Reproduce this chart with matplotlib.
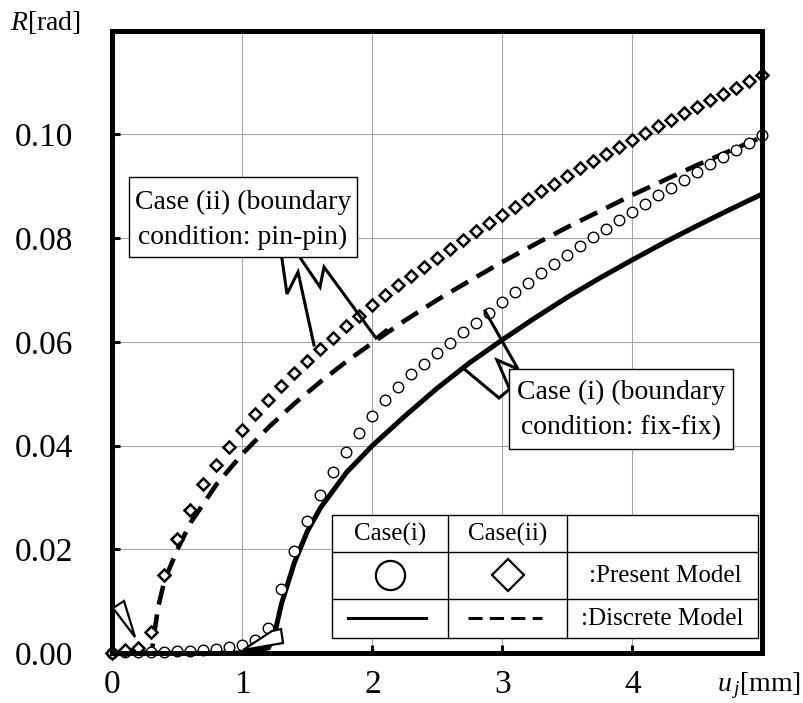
import matplotlib
matplotlib.use('Agg')
import matplotlib.pyplot as plt
from matplotlib.patches import Polygon, Rectangle
from matplotlib.lines import Line2D

plt.rcParams['font.family'] = ['Liberation Serif', 'DejaVu Serif']
plt.rcParams['mathtext.fontset'] = 'custom'
plt.rcParams['mathtext.rm'] = 'Liberation Serif'
plt.rcParams['mathtext.it'] = 'Liberation Serif:italic'

# ---------------- data ----------------
u_present = [0.0, 0.1, 0.2, 0.3, 0.4, 0.5, 0.6, 0.7, 0.8, 0.9,
             1.0, 1.1, 1.2, 1.3, 1.4, 1.5, 1.6, 1.7, 1.8, 1.9,
             2.0, 2.1, 2.2, 2.3, 2.4, 2.5, 2.6, 2.7, 2.8, 2.9,
             3.0, 3.1, 3.2, 3.3, 3.4, 3.5, 3.6, 3.7, 3.8, 3.9,
             4.0, 4.1, 4.2, 4.3, 4.4, 4.5, 4.6, 4.7, 4.8, 4.9, 5.0]

case1_present = [0.0, 0.0001, 0.0001, 0.0002, 0.0002, 0.0003, 0.0004, 0.0006, 0.0008, 0.0011,
                 0.0016, 0.0025, 0.0048, 0.0123, 0.0196, 0.0255, 0.0305, 0.0348, 0.0388, 0.0424,
                 0.0457, 0.0487, 0.0513, 0.0537, 0.0558, 0.0578, 0.0598, 0.0618, 0.0637, 0.0656,
                 0.0677, 0.0696, 0.0714, 0.0732, 0.0750, 0.0767, 0.0784, 0.0801, 0.0818, 0.0834,
                 0.0850, 0.0866, 0.0882, 0.0897, 0.0912, 0.0927, 0.0942, 0.0956, 0.0970, 0.0984, 0.0998]

case2_present = [0.0, 0.0005, 0.001, 0.004, 0.015, 0.022, 0.0275, 0.0325, 0.0363, 0.0398,
                 0.0430, 0.0460, 0.0488, 0.0514, 0.0539, 0.0563, 0.0586, 0.0608, 0.0630, 0.0650,
                 0.0670, 0.0690, 0.0709, 0.0727, 0.0745, 0.0762, 0.0779, 0.0796, 0.0813, 0.0829,
                 0.0845, 0.0860, 0.0875, 0.0890, 0.0905, 0.0919, 0.0934, 0.0948, 0.0962, 0.0975,
                 0.0989, 0.1002, 0.1015, 0.1028, 0.1041, 0.1053, 0.1066, 0.1078, 0.1090, 0.1103, 0.1115]

u_disc1 = [0.0, 1.0, 1.2, 1.25, 1.3, 1.4, 1.5, 1.6, 1.8, 2.0, 2.25, 2.5, 2.75,
           3.0, 3.25, 3.5, 3.75, 4.0, 4.25, 4.5, 4.75, 5.0]
case1_discrete = [0.0, 0.0, 0.001, 0.004, 0.0095, 0.0175, 0.0235, 0.0280, 0.0348, 0.0400,
                  0.0457, 0.0511, 0.0560, 0.0604, 0.0646, 0.0686, 0.0723, 0.0758, 0.0792,
                  0.0824, 0.0855, 0.0885]

u_disc2 = [0.0, 0.3, 0.35, 0.4, 0.5, 0.6, 0.8, 1.0, 1.2, 1.4, 1.6, 1.8, 2.0, 2.25, 2.5, 2.75,
           3.0, 3.25, 3.5, 3.75, 4.0, 4.25, 4.5, 4.75, 5.0]
case2_discrete = [0.0, 0.0, 0.0087, 0.0140, 0.0200, 0.0251, 0.0325, 0.0384, 0.0435, 0.0481,
                  0.0523, 0.0562, 0.0598, 0.0641, 0.0681, 0.0718, 0.0754, 0.0788, 0.0821,
                  0.0852, 0.0883, 0.0912, 0.0941, 0.0968, 0.0995]

x_ticks = [0, 1, 2, 3, 4]
x_tick_labels = ['0', '1', '2', '3', '4']
y_ticks = [0.00, 0.02, 0.04, 0.06, 0.08, 0.10]
y_tick_labels = ['0.00', '0.02', '0.04', '0.06', '0.08', '0.10']

# ---------------- figure ----------------
W, H = 804, 703
fig = plt.figure(figsize=(W / 100, H / 100), dpi=100)
ax = fig.add_axes([112.5 / W, 1 - 653 / H, 650 / W, 622.5 / H])
ax.set_xlim(0, 5)
ax.set_ylim(0, 0.12)

ax.grid(True, color='#a6a6a6', lw=0.8)
ax.set_axisbelow(True)
for s in ax.spines.values():
    s.set_linewidth(3.6)
    s.set_capstyle('projecting')
    s.set_zorder(7)

ax.set_xticks(x_ticks)
ax.set_xticklabels(x_tick_labels)
ax.set_yticks(y_ticks)
ax.set_yticklabels(y_tick_labels)
ax.tick_params(axis='both', direction='in', length=6, width=2.2, labelsize=24)
ax.tick_params(axis='x', pad=12)
ax.tick_params(axis='y', pad=28)

# series
ax.plot(u_disc1, case1_discrete, color='black', lw=3.6, zorder=4, solid_capstyle='butt')
ax.plot(u_disc2, case2_discrete, color='black', lw=3.3, zorder=4,
        linestyle=(0, (4.2, 2.2)), dash_capstyle='butt')
ax.plot(u_present, case1_present, linestyle='none', marker='o', ms=7.6,
        mfc='white', mec='black', mew=1.0, zorder=5, clip_on=False)
ax.plot(u_present, case2_present, linestyle='none', marker='D', ms=6.0,
        mfc='white', mec='black', mew=1.8, zorder=5, clip_on=False)

# axis labels
fig.text(10 / W, 1 - 22 / H, r'$R$[rad]', fontsize=20, ha='left', va='center')
fig.text(717 / W, 1 - 686 / H, r'$u_{\,j}$[mm]', fontsize=20, ha='left', va='center')


# ---------------- helpers in figure pixels ----------------
def fx(p):
    return p / W


def fy(p):
    return 1 - p / H


def poly_line(pts, lw=2.2, z=8):
    fig.add_artist(Line2D([fx(p[0]) for p in pts], [fy(p[1]) for p in pts],
                          color='black', lw=lw, zorder=z, transform=fig.transFigure,
                          solid_joinstyle='miter'))


def poly_patch(pts, z=8):
    fig.add_artist(Polygon([(fx(p[0]), fy(p[1])) for p in pts], closed=True,
                           facecolor='white', edgecolor='black', lw=1.6, zorder=z,
                           transform=fig.transFigure))


def box(x0, y0, x1, y1, z=9, lw=1.0):
    fig.add_artist(Rectangle((fx(x0), fy(y1)), fx(x1) - fx(x0), fy(y0) - fy(y1),
                             facecolor='white', edgecolor='black', lw=lw, zorder=z,
                             transform=fig.transFigure))


# white wedge shapes
poly_patch([(113, 608), (124, 601), (135, 637)])
poly_patch([(243, 650), (272, 631), (281, 629), (283, 643)])

# callout (ii)
box(129, 177, 357, 257)
fig.text(fx(243), fy(202), 'Case (ii) (boundary', fontsize=20, ha='center', va='center', zorder=10)
fig.text(fx(243), fy(237), 'condition: pin-pin)', fontsize=20, ha='center', va='center', zorder=10)
poly_line([(282, 259), (287, 294), (298, 272), (314, 345)])
poly_line([(301, 259), (320, 287), (324, 267), (376, 338), (386, 330)])

# callout (i)
box(509, 369, 733, 449)
fig.text(fx(621), fy(392), 'Case (i) (boundary', fontsize=20, ha='center', va='center', zorder=10)
fig.text(fx(621), fy(428), 'condition: fix-fix)', fontsize=20, ha='center', va='center', zorder=10)
poly_line([(485, 311), (518, 369), (497, 360), (510, 390)])
poly_line([(463, 368), (499, 398), (511, 388)])

# ---------------- legend table ----------------
box(332, 515, 758, 638, z=11, lw=1.0)
for xv in (448, 567):
    poly_line([(xv, 515), (xv, 638)], lw=1.0, z=12)
for yv in (552, 599):
    poly_line([(332, yv), (758, yv)], lw=1.0, z=12)
fig.text(fx(390), fy(534), 'Case(i)', fontsize=18, ha='center', va='center', zorder=12)
fig.text(fx(508), fy(534), 'Case(ii)', fontsize=18, ha='center', va='center', zorder=12)
fig.text(fx(665), fy(576), ':Present Model', fontsize=18, ha='center', va='center', zorder=12)
fig.text(fx(662), fy(619), ':Discrete Model', fontsize=18, ha='center', va='center', zorder=12)
fig.add_artist(Line2D([fx(390)], [fy(575)], marker='o', ms=21, mfc='white', mec='black',
                      mew=1.6, linestyle='none', zorder=12, transform=fig.transFigure))
fig.add_artist(Line2D([fx(508)], [fy(575)], marker='D', ms=16, mfc='white', mec='black',
                      mew=1.6, linestyle='none', zorder=12, transform=fig.transFigure))
fig.add_artist(Line2D([fx(348), fx(426)], [fy(618), fy(618)], color='black', lw=2.2,
                      zorder=12, transform=fig.transFigure))
fig.add_artist(Line2D([fx(468), fx(542)], [fy(618), fy(618)], color='black', lw=2.2,
                      linestyle=(0, (4.6, 2.4)), zorder=12, transform=fig.transFigure))

fig.savefig('out.png', dpi=100)
